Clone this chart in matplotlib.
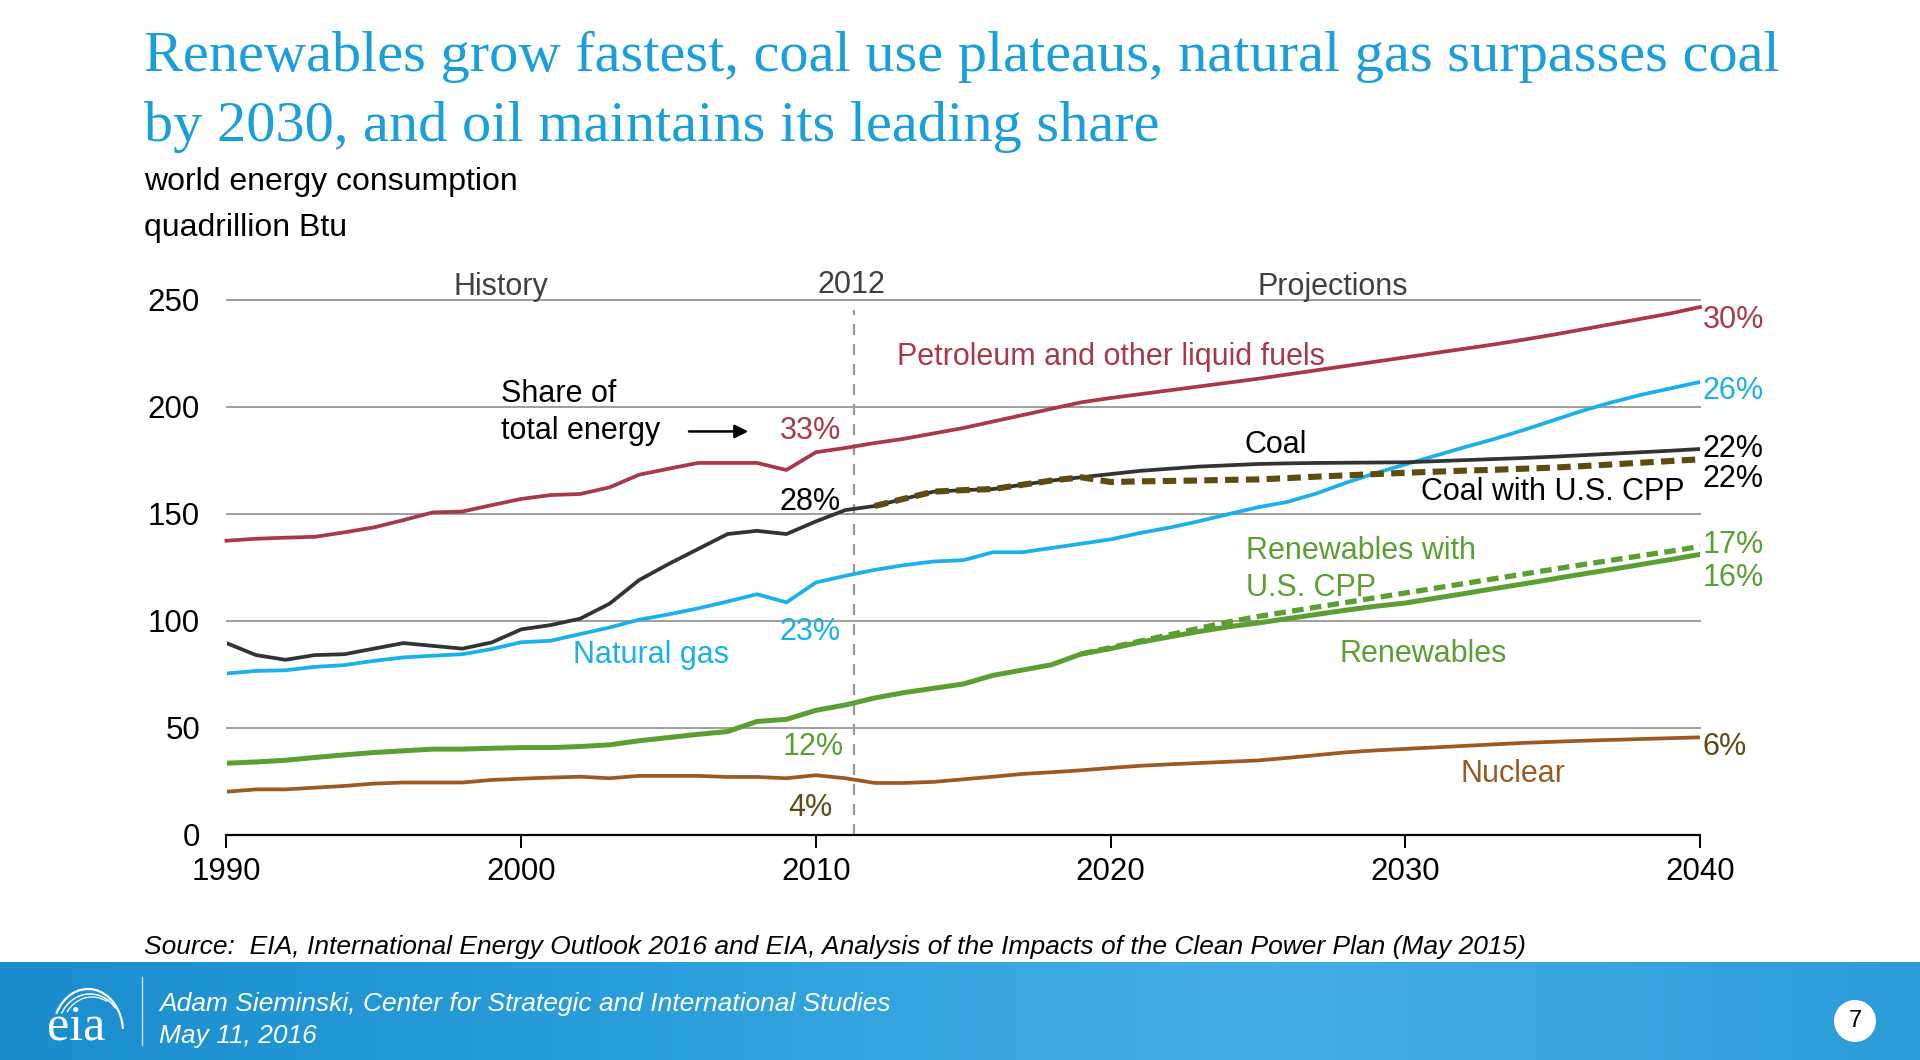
import numpy as np
import matplotlib
matplotlib.use("Agg")
import matplotlib.pyplot as plt
from matplotlib.patches import Circle, Arc
from matplotlib.colors import LinearSegmentedColormap

# ---------------- data ----------------
years = list(range(1990, 2041))

petroleum = [137.4, 138.3, 138.8, 139.2, 141.3, 143.6, 147.0, 150.6, 151.0, 154.0,
             156.9, 158.7, 159.2, 162.3, 168.2, 171.0, 173.7, 173.7, 173.7, 170.4,
             178.7, 180.7, 183.0, 185.0, 187.5, 190.0, 193.0, 196.0, 199.0, 202.0,
             204.0, 205.8, 207.6, 209.4, 211.2, 213.0, 215.0, 217.0, 219.0, 221.0,
             223.0, 225.0, 227.0, 229.0, 231.2, 233.5, 236.0, 238.5, 241.0, 243.5,
             246.5]
coal = [89.6, 84.0, 81.8, 84.0, 84.4, 87.0, 89.6, 88.3, 87.0, 89.9,
        96.0, 98.0, 101.0, 108.0, 119.0, 126.5, 133.5, 140.5, 142.0, 140.5,
        146.4, 151.7, 153.6, 157.0, 160.3, 161.0, 161.5, 163.5, 165.5, 167.0,
        168.5, 170.0, 171.0, 172.0, 172.6, 173.2, 173.5, 173.7, 173.8, 173.9,
        174.0, 174.5, 175.0, 175.5, 176.0, 176.6, 177.3, 178.0, 178.7, 179.4,
        180.2]
coal_cpp_years = list(range(2012, 2041))
coal_cpp = [153.6, 157.0, 160.3, 161.0, 161.5, 163.5, 165.5, 167.0,
            164.8, 165.1, 165.3, 165.5, 165.8, 166.0, 166.6, 167.3, 167.9, 168.5,
            169.1, 169.6, 170.1, 170.5, 171.0, 171.5, 172.2, 173.0, 173.8, 174.6,
            175.4]
natural_gas = [75.4, 76.6, 76.9, 78.5, 79.3, 81.3, 82.9, 83.7, 84.4, 86.8,
               90.0, 90.7, 93.8, 96.9, 100.5, 103.0, 105.8, 109.0, 112.4, 108.6,
               117.9, 121.0, 123.8, 126.0, 127.7, 128.3, 132.0, 132.0, 134.0, 136.0,
               138.0, 141.0, 143.5, 146.5, 149.8, 153.0, 155.5, 159.5, 164.5, 169.0,
               173.0, 177.0, 181.0, 184.8, 189.0, 193.5, 198.0, 202.0, 205.5, 208.5,
               211.5]
renewables = [33.5, 34.1, 34.9, 36.2, 37.4, 38.5, 39.3, 40.1, 40.1, 40.5,
              40.8, 40.8, 41.3, 42.1, 44.0, 45.5, 47.0, 48.3, 53.0, 54.0,
              58.2, 60.7, 64.0, 66.5, 68.5, 70.5, 74.5, 77.0, 79.5, 84.5,
              87.0, 90.0, 92.5, 95.0, 97.2, 99.0, 101.0, 103.0, 105.0, 106.8,
              108.3, 110.5, 112.7, 115.0, 117.2, 119.5, 121.8, 124.0, 126.3, 128.6,
              131.0]
renew_cpp_years = list(range(2019, 2041))
renew_cpp = [84.5, 87.5, 90.5, 93.5, 96.5, 99.5, 102.0, 104.2, 106.4, 108.6, 110.8,
             113.0, 115.2, 117.4, 119.6, 121.8, 124.0, 126.2, 128.3, 130.4, 132.5,
             134.7]
nuclear = [20.2, 21.3, 21.3, 22.1, 22.9, 24.0, 24.5, 24.5, 24.5, 25.7,
           26.3, 26.8, 27.2, 26.5, 27.6, 27.6, 27.6, 27.1, 27.1, 26.5,
           27.9, 26.5, 24.3, 24.3, 24.8, 26.0, 27.2, 28.5, 29.3, 30.2,
           31.3, 32.3, 33.0, 33.6, 34.2, 34.8, 36.0, 37.3, 38.6, 39.5,
           40.2, 40.9, 41.6, 42.3, 43.0, 43.5, 44.0, 44.4, 44.8, 45.2,
           45.6]

share_2012 = {"petroleum": "33%", "coal": "28%", "gas": "23%", "renew": "12%", "nuclear": "4%"}
share_2040 = {"petroleum": "30%", "gas": "26%", "coal": "22%", "coal_cpp": "22%",
              "renew_cpp": "17%", "renew": "16%", "nuclear": "6%"}

x_ticks = [1990, 2000, 2010, 2020, 2030, 2040]
y_ticks = [0, 50, 100, 150, 200, 250]

# ---------------- style ----------------
C_PET = "#A8394A"
C_COAL = "#333333"
C_CPP = "#5E4B10"
C_GAS = "#1BB0EA"
C_REN = "#5B9E32"
C_NUC = "#9C5A22"
C_NUCTXT = "#5E4B1A"
C_TITLE = "#1B9FDB"

plt.rcParams['font.family'] = ['Liberation Sans', 'DejaVu Sans']

W, H = 1920, 1060
fig = plt.figure(figsize=(W / 100, H / 100), dpi=100)
fig.patch.set_facecolor("white")

ax = fig.add_axes([226.5 / W, 225 / H, (1700 - 226.5) / W, (834.5 - 299) / H])
ax.set_xlim(1990, 2040)
ax.set_ylim(0, 250)
for s in ["left", "right", "top"]:
    ax.spines[s].set_visible(False)
ax.spines["bottom"].set_color("black")
ax.spines["bottom"].set_linewidth(1.6)
ax.set_xticks(x_ticks)
ax.set_xticklabels([str(t) for t in x_ticks], fontsize=22.5)
ax.set_yticks(y_ticks)
ax.set_yticklabels([str(t) for t in y_ticks], fontsize=22.5)
ax.tick_params(axis="x", length=9, width=1.4, direction="out", pad=7, colors="black")
ax.tick_params(axis="y", length=0, pad=19)
for t in y_ticks[1:]:
    ax.axhline(t, color="#9E9E9E", lw=1.4, zorder=1, clip_on=False)

# 2012 divider
ax.plot([2011.3, 2011.3], [0, 245], color="#9A9A9A", lw=1.6, ls=(0, (5, 4)), zorder=2, clip_on=False)

lw = 2.7
ax.plot(years, nuclear, color=C_NUC, lw=lw, zorder=3)
ax.plot(years, renewables, color=C_REN, lw=3.6, zorder=3)
ax.plot(renew_cpp_years, renew_cpp, color=C_REN, lw=3.8, ls=(0, (2.2, 1.2)), zorder=3)
ax.plot(years, natural_gas, color=C_GAS, lw=lw, zorder=3)
ax.plot(years, coal, color=C_COAL, lw=lw, zorder=4)
ax.plot(coal_cpp_years, coal_cpp, color=C_CPP, lw=4.4, ls=(0, (2.2, 1.2)), zorder=5)
ax.plot(years, petroleum, color=C_PET, lw=lw, zorder=3, clip_on=False)

fs = 22
# section headers
ax.text(1999.3, 256, "History", ha="center", va="center", fontsize=fs, color="#404040", clip_on=False)
ax.text(2011.2, 257, "2012", ha="center", va="center", fontsize=fs, color="#404040", clip_on=False)
ax.text(2027.55, 256, "Projections", ha="center", va="center", fontsize=fs, color="#404040", clip_on=False)

# series labels
ax.text(2020.0, 223, "Petroleum and other liquid fuels", ha="center", va="center", fontsize=fs, color=C_PET)
ax.text(1999.3, 206, "Share of", ha="left", va="center", fontsize=fs, color="black")
ax.text(1999.3, 188.4, "total energy", ha="left", va="center", fontsize=fs, color="black")
ax.annotate("", xy=(2007.8, 188.4), xytext=(2005.6, 188.4),
            arrowprops=dict(arrowstyle="-|>", color="black", lw=1.8, mutation_scale=20))
ax.text(2009.8, 188.4, share_2012["petroleum"], ha="center", va="center", fontsize=fs, color=C_PET)
ax.text(2009.8, 155.3, share_2012["coal"], ha="center", va="center", fontsize=fs, color="black")
ax.text(2009.8, 94.7, share_2012["gas"], ha="center", va="center", fontsize=fs, color=C_GAS)
ax.text(2009.9, 41, share_2012["renew"], ha="center", va="center", fontsize=fs, color=C_REN)
ax.text(2009.8, 12.6, share_2012["nuclear"], ha="center", va="center", fontsize=fs, color=C_NUCTXT)

ax.text(2004.4, 84, "Natural gas", ha="center", va="center", fontsize=fs, color=C_GAS)
ax.text(2025.6, 182, "Coal", ha="center", va="center", fontsize=fs, color="black")
ax.text(2035.0, 160, "Coal with U.S. CPP", ha="center", va="center", fontsize=fs, color="black")
ax.text(2024.6, 132.5, "Renewables with", ha="left", va="center", fontsize=fs, color=C_REN)
ax.text(2024.6, 115.2, "U.S. CPP", ha="left", va="center", fontsize=fs, color=C_REN)
ax.text(2030.6, 84.4, "Renewables", ha="center", va="center", fontsize=fs, color=C_REN)
ax.text(2033.65, 28.5, "Nuclear", ha="center", va="center", fontsize=fs, color=C_NUC)

xr = 2040.1
ax.text(xr, 240.3, share_2040["petroleum"], ha="left", va="center", fontsize=fs, color=C_PET, clip_on=False)
ax.text(xr, 207.2, share_2040["gas"], ha="left", va="center", fontsize=fs, color=C_GAS, clip_on=False)
ax.text(xr, 180.1, share_2040["coal"], ha="left", va="center", fontsize=fs, color="black", clip_on=False)
ax.text(xr, 166.1, share_2040["coal_cpp"], ha="left", va="center", fontsize=fs, color="black", clip_on=False)
ax.text(xr, 135.3, share_2040["renew_cpp"], ha="left", va="center", fontsize=fs, color=C_REN, clip_on=False)
ax.text(xr, 119.8, share_2040["renew"], ha="left", va="center", fontsize=fs, color=C_REN, clip_on=False)
ax.text(xr, 41, share_2040["nuclear"], ha="left", va="center", fontsize=fs, color=C_NUCTXT, clip_on=False)

# ---------------- titles ----------------
def fx(px):
    return px / W

def fy(py):
    return 1 - py / H

fig.text(fx(144), fy(57), "Renewables grow fastest, coal use plateaus, natural gas surpasses coal",
         ha="left", va="center", fontsize=42, color=C_TITLE, family=["Liberation Serif", "DejaVu Serif"])
fig.text(fx(144), fy(127), "by 2030, and oil maintains its leading share",
         ha="left", va="center", fontsize=42, color=C_TITLE, family=["Liberation Serif", "DejaVu Serif"])
fig.text(fx(144), fy(182), "world energy consumption", ha="left", va="center", fontsize=23, color="black")
fig.text(fx(144), fy(228), "quadrillion Btu", ha="left", va="center", fontsize=23, color="black")

fig.text(fx(144), fy(947),
         "Source:  EIA, International Energy Outlook 2016 and EIA, Analysis of the Impacts of the Clean Power Plan (May 2015)",
         ha="left", va="center", fontsize=19, style="italic", color="black")

# ---------------- footer band ----------------
fax = fig.add_axes([0, 0, 1, 98 / H])
fax.set_axis_off()
cmap = LinearSegmentedColormap.from_list("band", ["#1B8DCF", "#2A9EDB", "#44AFE5", "#2B9CD8"])
grad = np.linspace(0, 1, 512).reshape(1, -1)
fax.imshow(grad, cmap=cmap, aspect="auto", extent=[0, 1, 0, 1])
fax.set_xlim(0, 1)
fax.set_ylim(0, 1)
fax.plot([141.5 / W, 141.5 / W], [0.15, 0.85], color="white", lw=1.0, alpha=0.75)
fax.text(76 / W, 0.33, "eia", ha="center", va="center", fontsize=36, color="white",
         family=["Liberation Serif", "DejaVu Serif"])
# logo swooshes (pixel -> inch coords)
for (cx, cy, w, h, t1, t2, lwid) in [(88, 1032, 70, 86, 5, 150, 1.6),
                                     (90, 1030, 64, 72, 40, 150, 1.1),
                                     (92, 1028, 58, 62, 60, 148, 0.9)]:
    fig.patches.append(Arc((cx / 100, (H - cy) / 100), w / 100, h / 100, theta1=t1, theta2=t2,
                           transform=fig.dpi_scale_trans, color="white", lw=lwid))
fax.text(159 / W, (1060 - 1004) / 98, "Adam Sieminski, Center for Strategic and International Studies",
         ha="left", va="center", fontsize=19, style="italic", color="white")
fax.text(159 / W, (1060 - 1036) / 98, "May 11, 2016",
         ha="left", va="center", fontsize=19, style="italic", color="white")
fig.patches.append(Circle((18.55, 0.39), radius=0.21, transform=fig.dpi_scale_trans,
                          facecolor="white", edgecolor="none"))
fig.text(1855 / W, fy(1021), "7", ha="center", va="center", fontsize=17, color="black")

fig.savefig("out.png", dpi=100)
